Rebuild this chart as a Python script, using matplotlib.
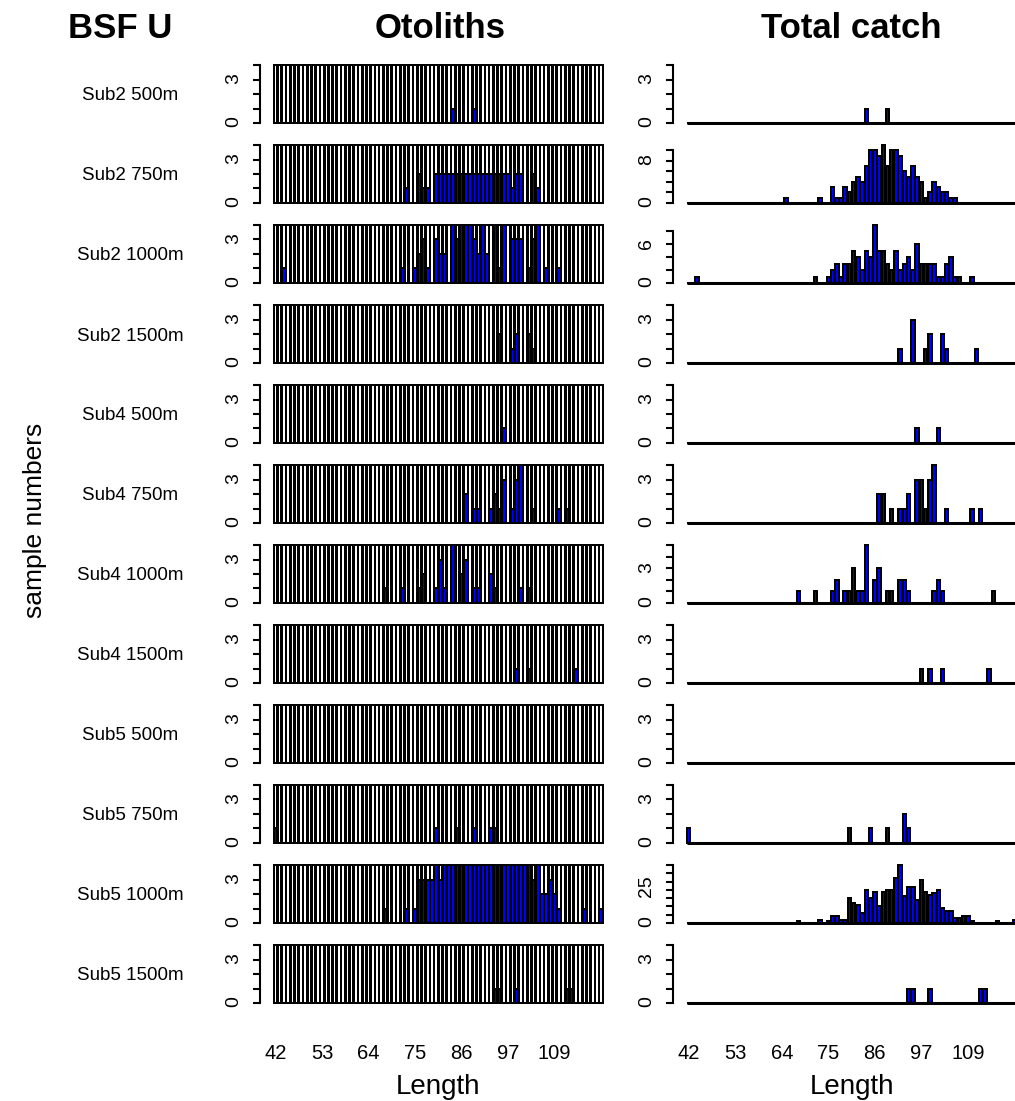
import matplotlib
matplotlib.use("Agg")
import matplotlib.pyplot as plt

plt.rcParams['font.family'] = ['Liberation Sans', 'DejaVu Sans']

# length classes (108 is not in the data)
lengths = list(range(42, 108)) + list(range(109, 121))
xtick_labels = [42, 53, 64, 75, 86, 97, 109]

samples = ["Sub2 500m", "Sub2 750m", "Sub2 1000m", "Sub2 1500m",
           "Sub4 500m", "Sub4 750m", "Sub4 1000m", "Sub4 1500m",
           "Sub5 500m", "Sub5 750m", "Sub5 1000m", "Sub5 1500m"]

# otoliths per length class (only non-zero classes)
oto_sub2_500 = {84: 1, 89: 1}
oto_sub2_750 = {73: 1, 76: 2, 77: 1, 78: 1, 80: 2, 81: 2, 82: 2, 83: 2, 84: 2, 85: 2,
                86: 2, 87: 2, 88: 2, 89: 2, 90: 2, 91: 2, 92: 2, 93: 2, 94: 2, 95: 2,
                96: 2, 97: 2, 98: 1, 99: 2, 100: 2, 103: 2, 104: 1}
oto_sub2_1000 = {44: 1, 72: 1, 75: 1, 76: 2, 77: 3, 78: 1, 80: 3, 81: 2, 82: 2, 84: 4,
                 85: 3, 86: 4, 87: 4, 88: 4, 89: 3, 90: 2, 91: 4, 92: 2, 94: 4, 95: 1,
                 96: 4, 98: 3, 99: 3, 100: 3, 102: 1, 103: 3, 104: 4, 106: 1, 110: 1}
oto_sub2_1500 = {95: 2, 98: 1, 99: 2, 102: 2, 103: 1}
oto_sub4_500 = {96: 1}
oto_sub4_750 = {87: 2, 89: 1, 90: 1, 93: 1, 94: 2, 95: 1, 96: 3, 98: 1, 99: 3, 100: 4,
                103: 1, 110: 1, 112: 1}
oto_sub4_1000 = {68: 1, 72: 1, 76: 1, 77: 2, 80: 1, 81: 3, 82: 1, 84: 4, 86: 2, 87: 3,
                 89: 1, 90: 1, 93: 2, 94: 1, 100: 1, 102: 1}
oto_sub4_1500 = {99: 1, 102: 1, 114: 1}
oto_sub5_500 = {}
oto_sub5_750 = {42: 1, 80: 1, 85: 1, 89: 1, 93: 1, 94: 1}
oto_sub5_1000 = {68: 1, 73: 1, 75: 1, 76: 3, 77: 3, 78: 3, 79: 3, 80: 4, 81: 3, 82: 4,
                 83: 4, 84: 4, 85: 4, 86: 4, 87: 4, 88: 4, 89: 4, 90: 4, 91: 4, 92: 4,
                 93: 4, 94: 4, 95: 4, 96: 4, 97: 4, 98: 4, 99: 4, 100: 4, 101: 4, 102: 4,
                 103: 3, 104: 4, 105: 2, 106: 2, 107: 3, 109: 2, 110: 1, 116: 1, 120: 1}
oto_sub5_1500 = {94: 1, 95: 1, 99: 1, 112: 1, 113: 1}

# total catch per length class
catch_sub2_500 = {84: 1, 89: 1}
catch_sub2_750 = {65: 1, 73: 1, 76: 3, 77: 1, 78: 1, 79: 3, 80: 2, 81: 4, 82: 5, 83: 4,
                  84: 7, 85: 10, 86: 10, 87: 9, 88: 11, 89: 7, 90: 10, 91: 10, 92: 9,
                  93: 6, 94: 5, 95: 7, 96: 5, 97: 4, 98: 1, 99: 2, 100: 4, 101: 3,
                  102: 2, 103: 2, 104: 1, 105: 1}
catch_sub2_1000 = {44: 1, 72: 1, 75: 1, 76: 2, 77: 3, 78: 1, 79: 3, 80: 3, 81: 5, 82: 4,
                   83: 2, 84: 5, 85: 4, 86: 9, 87: 5, 88: 5, 89: 3, 90: 2, 91: 5, 92: 2,
                   93: 3, 94: 4, 95: 2, 96: 6, 97: 3, 98: 3, 99: 3, 100: 3, 101: 1,
                   102: 1, 103: 3, 104: 4, 105: 1, 106: 1, 110: 1}
catch_sub2_1500 = {92: 1, 95: 3, 98: 1, 99: 2, 102: 2, 103: 1, 111: 1}
catch_sub4_500 = {96: 1, 101: 1}
catch_sub4_750 = {87: 2, 88: 2, 90: 1, 92: 1, 93: 1, 94: 2, 96: 3, 97: 3, 98: 1, 99: 3,
                  100: 4, 103: 1, 110: 1, 112: 1}
catch_sub4_1000 = {68: 1, 72: 1, 76: 1, 77: 2, 79: 1, 80: 1, 81: 3, 82: 1, 83: 1, 84: 5,
                   86: 2, 87: 3, 89: 1, 90: 1, 92: 2, 93: 2, 94: 1, 100: 1, 101: 2,
                   102: 1, 115: 1}
catch_sub4_1500 = {97: 1, 99: 1, 102: 1, 114: 1}
catch_sub5_500 = {}
catch_sub5_750 = {42: 1, 80: 1, 85: 1, 89: 1, 93: 2, 94: 1}
catch_sub5_1000 = {68: 1, 73: 2, 75: 1, 76: 4, 77: 4, 78: 2, 79: 2, 80: 15, 81: 12,
                   82: 11, 83: 6, 84: 20, 85: 15, 86: 19, 87: 10, 88: 19, 89: 20, 90: 20,
                   91: 27, 92: 35, 93: 16, 94: 22, 95: 22, 96: 14, 97: 26, 98: 19,
                   99: 17, 100: 18, 101: 20, 102: 9, 103: 7, 104: 7, 105: 3, 106: 3,
                   107: 4, 109: 4, 110: 1, 116: 1, 120: 2}
catch_sub5_1500 = {94: 1, 95: 1, 99: 1, 112: 1, 113: 1}

otoliths = [oto_sub2_500, oto_sub2_750, oto_sub2_1000, oto_sub2_1500,
            oto_sub4_500, oto_sub4_750, oto_sub4_1000, oto_sub4_1500,
            oto_sub5_500, oto_sub5_750, oto_sub5_1000, oto_sub5_1500]
catches = [catch_sub2_500, catch_sub2_750, catch_sub2_1000, catch_sub2_1500,
           catch_sub4_500, catch_sub4_750, catch_sub4_1000, catch_sub4_1500,
           catch_sub5_500, catch_sub5_750, catch_sub5_1000, catch_sub5_1500]


W, H = 1015, 1101
fig = plt.figure(figsize=(W / 100, H / 100), dpi=100)


def px_axes(left, top, width, height):
    # axes placed in pixel coordinates measured from the top left corner
    return fig.add_axes([left / W, 1 - (top + height) / H, width / W, height / H])


def pretty_ticks(top):
    for step in [1, 2, 5, 10]:
        if top / step <= 7:
            break
    ticks = []
    t = 0
    while t <= top:
        ticks.append(t)
        t += step
    return ticks


def tick_texts(ticks, top):
    # R drops axis labels that would overlap the previous one
    out = []
    last = None
    for t in ticks:
        if last is None or (t - last) / top * 58 >= 34:
            out.append(str(t))
            last = t
        else:
            out.append("")
    return out


def style_axis(ax, top):
    for sp in ['top', 'right', 'bottom']:
        ax.spines[sp].set_visible(False)
    ticks = pretty_ticks(top)
    ax.spines['left'].set_position(('outward', 5))
    ax.spines['left'].set_bounds(0, ticks[-1])
    ax.spines['left'].set_linewidth(1.5)
    ax.set_yticks(ticks)
    ax.set_yticklabels(tick_texts(ticks, top))
    ax.tick_params(axis='y', length=5, width=1.5, pad=8, labelsize=14, labelrotation=90)
    ax.tick_params(axis='x', length=0, labelsize=14.5, pad=28)
    ax.set_ylim(-0.04 * top, 1.04 * top)
    ax.set_xlim(-2, 79)
    ax.set_xticks([])


pitch = 4.23
idx = list(range(len(lengths)))
bar_w = 0.83
lw = 1.1

for k, name in enumerate(samples):
    top_px = 65 + 80 * k - 0.04 * 58
    h_px = 58 * 1.08

    # otoliths panel
    ax = px_axes(275.5 - 2 * pitch, top_px, 81 * pitch, h_px)
    ax.bar(idx, [4] * len(idx), width=bar_w, color='white', edgecolor='black',
           linewidth=lw, antialiased=False)
    oto = [otoliths[k].get(L, 0) for L in lengths]
    ax.bar(idx, oto, width=bar_w, color='blue', edgecolor='black',
           linewidth=lw, antialiased=False)
    style_axis(ax, 4)
    if k == len(samples) - 1:
        ax.set_xticks([lengths.index(v) for v in xtick_labels])
        ax.set_xticklabels([str(v) for v in xtick_labels])
        ax.set_xlabel("Length", fontsize=20, labelpad=8)

    # total catch panel
    ax2 = px_axes(688.7 - 2 * pitch, top_px, 81 * pitch, h_px)
    tot = [catches[k].get(L, 0) for L in lengths]
    ax2.hlines(0, idx[0] - bar_w / 2, idx[-1] + bar_w / 2, color='black', linewidth=2.2)
    ax2.bar(idx, tot, width=bar_w, color='blue', edgecolor='black',
            linewidth=lw, antialiased=False)
    style_axis(ax2, max(4, max(tot)))
    if k == len(samples) - 1:
        ax2.set_xticks([lengths.index(v) for v in xtick_labels])
        ax2.set_xticklabels([str(v) for v in xtick_labels])
        ax2.set_xlabel("Length", fontsize=20, labelpad=8)

    fig.text(130 / W, 1 - (96 + 80 * k) / H, name, ha='center', va='center', fontsize=13.5)

fig.text(120 / W, 1 - 28 / H, "BSF U", ha='center', va='center', fontsize=25, fontweight='bold')
fig.text(440 / W, 1 - 28 / H, "Otoliths", ha='center', va='center', fontsize=25, fontweight='bold')
fig.text(851 / W, 1 - 28 / H, "Total catch", ha='center', va='center', fontsize=25, fontweight='bold')
fig.text(35 / W, 1 - 520 / H, "sample numbers", ha='center', va='center', rotation=90, fontsize=19)

fig.savefig("out.png", dpi=100)
